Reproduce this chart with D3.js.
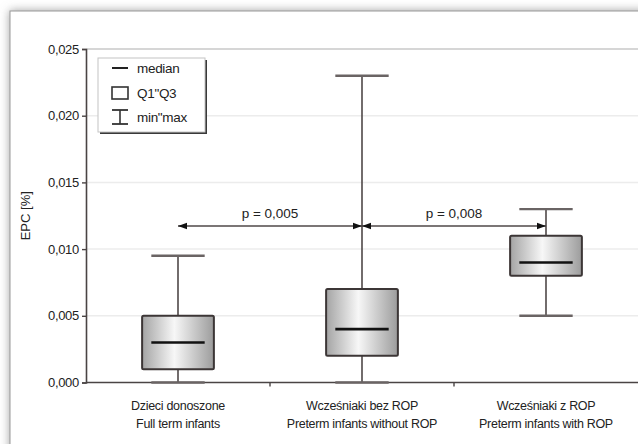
<!DOCTYPE html>
<html>
<head>
<meta charset="utf-8">
<title>EPC box plot</title>
<script src="https://d3js.org/d3.v7.min.js"></script>
<style>
  body { margin: 0; background: #fff; }
  svg text { font-family: "Liberation Sans", Arial, sans-serif; fill: #222; }
</style>
</head>
<body>
<div id="chart"></div>
<script>

// data
const categories = [
  ["Dzieci donoszone", "Full term infants"],
  ["Wcześniaki bez ROP", "Preterm infants without ROP"],
  ["Wcześniaki z ROP", "Preterm infants with ROP"]
];
const minVals    = [0.0,    0.0,   0.005];
const q1Vals     = [0.001,  0.002, 0.008];
const medianVals = [0.003,  0.004, 0.009];
const q3Vals     = [0.005,  0.007, 0.011];
const maxVals    = [0.0095, 0.023, 0.013];
const yTicks = [0, 0.005, 0.010, 0.015, 0.020, 0.025];
const compFrom = [0, 1];
const compTo   = [1, 2];
const compY    = [0.01173, 0.01173];
const compText = ["p = 0,005", "p = 0,008"];
const legendItems = ["median", "Q1\"Q3", "min\"max"];

const width = 638, height = 444;
const plot = { left: 86, right: 638, top: 49, bottom: 382.5 };

const svg = d3.select("#chart").append("svg")
  .attr("width", width)
  .attr("height", height);

const defs = svg.append("defs");
const shadow = defs.append("filter").attr("id", "shadow")
  .attr("x", "-10%").attr("y", "-10%").attr("width", "130%").attr("height", "130%");
shadow.append("feDropShadow")
  .attr("dx", 0).attr("dy", 0).attr("stdDeviation", 5)
  .attr("flood-color", "#777").attr("flood-opacity", 0.7);

const grad = defs.append("linearGradient").attr("id", "boxgrad")
  .attr("x1", "0%").attr("x2", "100%").attr("y1", "0%").attr("y2", "0%");
grad.append("stop").attr("offset", "0%").attr("stop-color", "#a4a4a4");
grad.append("stop").attr("offset", "45%").attr("stop-color", "#f7f7f7");
grad.append("stop").attr("offset", "100%").attr("stop-color", "#9c9c9c");

// panel (frame with shadow)
svg.append("rect").attr("width", width).attr("height", height).attr("fill", "#fff");
svg.append("rect")
  .attr("x", 10).attr("y", 11).attr("width", 700).attr("height", 500)
  .attr("fill", "#fff").attr("stroke", "#9a9a9a").attr("stroke-width", 1)
  .attr("filter", "url(#shadow)");

// scales
const x = d3.scaleBand().domain(d3.range(categories.length))
  .range([plot.left, plot.right]).padding(0);
const y = d3.scaleLinear().domain([0, 0.025]).range([plot.bottom, plot.top]);

const locale = d3.formatLocale({ decimal: ",", thousands: " ", grouping: [3], currency: ["", ""] });
const fmt = locale.format(".3f");

// gridlines
svg.append("g").selectAll("line")
  .data(yTicks.filter(d => d > 0))
  .join("line")
  .attr("x1", plot.left).attr("x2", plot.right)
  .attr("y1", d => y(d)).attr("y2", d => y(d))
  .attr("stroke", d => d === 0.025 ? "#c8c8c8" : "#ececec")
  .attr("stroke-width", 1.5);

// y axis
const yAxis = svg.append("g")
  .attr("transform", `translate(${plot.left},0)`)
  .call(d3.axisLeft(y).tickValues(yTicks).tickFormat(fmt).tickSize(4).tickPadding(3));
yAxis.select(".domain").attr("stroke", "#4a4444").attr("stroke-width", 1.6);
yAxis.selectAll(".tick line").attr("stroke", "#4a4444").attr("stroke-width", 1.4);
yAxis.selectAll(".tick text").attr("font-size", 13).attr("fill", "#222")
  .attr("font-family", "Liberation Sans, Arial, sans-serif").attr("letter-spacing", "-0.3px");

// x axis
const xAxis = svg.append("g")
  .attr("transform", `translate(0,${plot.bottom})`);
xAxis.append("line")
  .attr("x1", plot.left).attr("x2", plot.right)
  .attr("stroke", "#4a4444").attr("stroke-width", 1.6);
xAxis.selectAll(".sep")
  .data(d3.range(1, categories.length))
  .join("line")
  .attr("class", "sep")
  .attr("x1", d => x(d)).attr("x2", d => x(d))
  .attr("y1", 0).attr("y2", 4)
  .attr("stroke", "#4a4444").attr("stroke-width", 1.4);

// category labels (two lines each)
const labels = svg.append("g").selectAll(".cat")
  .data(categories)
  .join("text")
  .attr("class", "cat")
  .attr("text-anchor", "middle")
  .attr("font-size", 12.5)
  .attr("letter-spacing", "-0.3px");
labels.selectAll("tspan")
  .data((d, i) => d.map(t => ({ t: t, i: i })))
  .join("tspan")
  .attr("x", d => x(d.i) + x.bandwidth() / 2)
  .attr("y", (d, j) => 410 + j * 17.5)
  .text(d => d.t);

// y label
svg.append("text")
  .attr("transform", `translate(30,${(plot.top + plot.bottom) / 2}) rotate(-90)`)
  .attr("text-anchor", "middle")
  .attr("font-size", 13)
  .text("EPC [%]");

// box plots
const boxW = x.bandwidth() * 0.39;
const capW = x.bandwidth() * 0.29;
const cx = i => x(i) + x.bandwidth() / 2;
const boxes = svg.append("g").selectAll("g")
  .data(d3.range(categories.length))
  .join("g");

boxes.append("line")
  .attr("x1", cx).attr("x2", cx)
  .attr("y1", i => y(minVals[i])).attr("y2", i => y(maxVals[i]))
  .attr("stroke", "#4f4848").attr("stroke-width", 1.6);
boxes.append("line")
  .attr("x1", i => cx(i) - capW / 2).attr("x2", i => cx(i) + capW / 2)
  .attr("y1", i => y(maxVals[i])).attr("y2", i => y(maxVals[i]))
  .attr("stroke", "#6a6464").attr("stroke-width", 2.4);
boxes.append("line")
  .attr("x1", i => cx(i) - capW / 2).attr("x2", i => cx(i) + capW / 2)
  .attr("y1", i => y(minVals[i])).attr("y2", i => y(minVals[i]))
  .attr("stroke", "#6a6464").attr("stroke-width", 2.4);
boxes.append("rect")
  .attr("x", i => cx(i) - boxW / 2)
  .attr("width", boxW)
  .attr("y", i => y(q3Vals[i]))
  .attr("height", i => y(q1Vals[i]) - y(q3Vals[i]))
  .attr("rx", 1.5)
  .attr("fill", "url(#boxgrad)")
  .attr("stroke", "#3c3636").attr("stroke-width", 2);
boxes.append("line")
  .attr("x1", i => cx(i) - capW / 2).attr("x2", i => cx(i) + capW / 2)
  .attr("y1", i => y(medianVals[i])).attr("y2", i => y(medianVals[i]))
  .attr("stroke", "#111").attr("stroke-width", 2.6);

// comparison arrows
function arrowHead(xTip, yy, dir) {
  const l = 9, h = 3.2;
  return `M${xTip},${yy} L${xTip - dir * l},${yy - h} L${xTip - dir * l},${yy + h} Z`;
}
const comps = svg.append("g").selectAll("g")
  .data(d3.range(compFrom.length))
  .join("g");
comps.append("line")
  .attr("x1", i => cx(compFrom[i])).attr("x2", i => cx(compTo[i]))
  .attr("y1", i => y(compY[i])).attr("y2", i => y(compY[i]))
  .attr("stroke", "#4f4848").attr("stroke-width", 1.4);
comps.append("path")
  .attr("d", i => arrowHead(cx(compFrom[i]), y(compY[i]), -1))
  .attr("fill", "#111");
comps.append("path")
  .attr("d", i => arrowHead(cx(compTo[i]), y(compY[i]), 1))
  .attr("fill", "#111");
comps.append("text")
  .attr("x", i => (cx(compFrom[i]) + cx(compTo[i])) / 2)
  .attr("y", i => y(compY[i]) - 8)
  .attr("text-anchor", "middle")
  .attr("font-size", 13.5)
  .text(i => compText[i]);

// legend
const lg = svg.append("g").attr("transform", "translate(98,58)");
lg.append("rect").attr("x", 2).attr("y", 2).attr("width", 107).attr("height", 74).attr("fill", "#3a3a3a");
lg.append("rect").attr("width", 107).attr("height", 74)
  .attr("fill", "#fff").attr("stroke", "#c4c4c4").attr("stroke-width", 1);
lg.append("line").attr("x1", 14).attr("x2", 30).attr("y1", 10).attr("y2", 10)
  .attr("stroke", "#222").attr("stroke-width", 2);
lg.append("rect").attr("x", 14).attr("y", 29).attr("width", 16).attr("height", 12)
  .attr("fill", "#fff").attr("stroke", "#333").attr("stroke-width", 1.6);
lg.append("line").attr("x1", 22).attr("x2", 22).attr("y1", 52).attr("y2", 66)
  .attr("stroke", "#333").attr("stroke-width", 1.6);
lg.append("line").attr("x1", 14).attr("x2", 30).attr("y1", 52).attr("y2", 52)
  .attr("stroke", "#333").attr("stroke-width", 1.8);
lg.append("line").attr("x1", 14).attr("x2", 30).attr("y1", 66).attr("y2", 66)
  .attr("stroke", "#333").attr("stroke-width", 1.8);
lg.selectAll(".lt")
  .data(legendItems)
  .join("text")
  .attr("class", "lt")
  .attr("x", 39)
  .attr("y", (d, i) => 15 + i * 24.5)
  .attr("font-size", 13.5)
  .attr("letter-spacing", "-0.3px")
  .text(d => d);

</script>
</body>
</html>
